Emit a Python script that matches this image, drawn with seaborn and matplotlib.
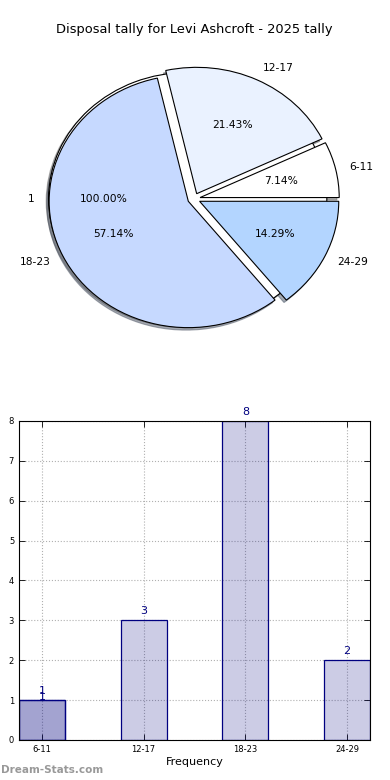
import matplotlib
matplotlib.use('Agg')
import matplotlib.pyplot as plt
import seaborn as sns
import pandas as pd

# tally data
bar_labels = ['6-11', '12-17', '18-23', '24-29']
counts = [1, 3, 8, 2]
pie_colors = ['#ffffff', '#eaf2ff', '#c6d9ff', '#b3d5ff']

# stray single-value series that shows up in both charts
extra_labels = ['1']
extra_values = [1]

title = 'Disposal tally for Levi Ashcroft - 2025 tally'

fig = plt.figure(figsize=(3.9, 7.8), dpi=100)

# --- pie ---
ax_pie = fig.add_axes([0.0513, 0.5426, 0.892, 0.405])
wp = {'edgecolor': 'black', 'linewidth': 0.8}
tp = {'fontsize': 7.7}
shd = {'ox': -0.012, 'oy': -0.014, 'shade': 0.6}
ax_pie.pie(extra_values, labels=extra_labels, colors=pie_colors[:1], explode=[0.045],
           autopct='%1.2f%%', shadow=shd, startangle=0, wedgeprops=wp, textprops=tp)
ax_pie.pie(counts, labels=bar_labels, colors=pie_colors, explode=[0.045] * len(counts),
           autopct='%1.2f%%', shadow=shd, startangle=0, wedgeprops=wp, textprops=tp)
ax_pie.set_aspect('auto')
ax_pie.set_xlim(-1.25, 1.25)
ax_pie.set_ylim(-1.25, 1.25)
fig.text(0.497, 1 - 30 / 780, title, ha='center', va='center', fontsize=9.4)

# --- bars ---
ax = fig.add_axes([0.0487, 0.0513, 0.9, 0.409])
df = pd.DataFrame({'bin': bar_labels, 'count': counts})
df_extra = pd.DataFrame({'bin': bar_labels[:1], 'count': extra_values})
sns.barplot(data=df, x='bin', y='count', order=bar_labels, width=0.45,
            saturation=1, color='navy', ax=ax)
sns.barplot(data=df_extra, x='bin', y='count', order=bar_labels, width=0.45,
            saturation=1, color='navy', ax=ax)
for p in ax.patches:
    p.set_facecolor((0, 0, 0.5, 0.2))
    p.set_edgecolor('navy')
    p.set_linewidth(0.9)

for i, c in enumerate(counts):
    ax.text(i, c + 0.1, str(c), ha='center', va='bottom', color='navy', fontsize=8)
for v in extra_values:
    ax.text(0, v - 0.05, str(v), ha='center', va='bottom', color='navy', fontsize=8)

ax.set_xlim(-0.225, 3.225)
ax.set_ylim(0, 8)
ax.set_yticks(range(0, 9))
ax.grid(True, linestyle=':', color='#b0b0b0', linewidth=0.8)
ax.set_axisbelow(True)
ax.tick_params(direction='in', top=True, right=True, labelsize=6, length=4, width=0.6)
for s in ax.spines.values():
    s.set_color('black')
    s.set_linewidth(0.8)
ax.set_xlabel('Frequency', fontsize=8, labelpad=2)
ax.set_ylabel('')

fig.text(0.002, 0.006, 'Dream-Stats.com', color='#999999', fontsize=7.5, weight='bold',
         ha='left', va='bottom')

fig.savefig('out.png', dpi=100)
